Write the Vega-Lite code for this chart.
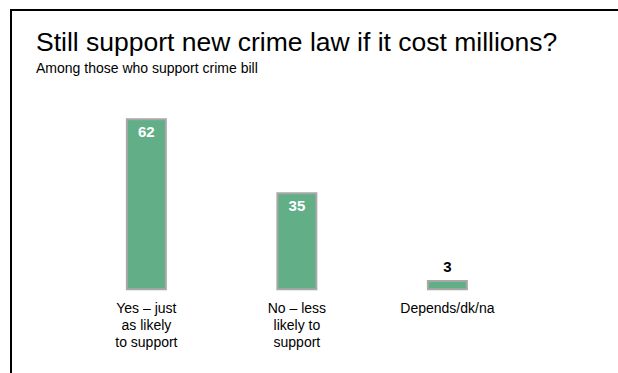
{
  "$schema": "https://vega.github.io/schema/vega-lite/v6.json",
  "autosize": {"type": "none"},
  "padding": {"left": 11, "top": 10, "right": 0, "bottom": 0},
  "width": 607,
  "height": 363,
  "background": "white",
  "config": {
    "font": "Liberation Sans",
    "view": {"stroke": "black", "strokeWidth": 2, "strokeDash": [607, 970]}
  },
  "title": {
    "text": "Still support new crime law if it cost millions?",
    "subtitle": "Among those who support crime bill",
    "anchor": "start",
    "frame": "group",
    "orient": "top",
    "offset": -66,
    "dx": 25,
    "font": "Liberation Sans",
    "fontSize": 26.5,
    "fontWeight": "normal",
    "color": "black",
    "subtitleFont": "Liberation Sans",
    "subtitleFontSize": 14,
    "subtitleColor": "black",
    "subtitlePadding": 6
  },
  "data": {
    "values": [
      {"answer": "Yes – just|as likely|to support", "pct": 62},
      {"answer": "No – less|likely to|support", "pct": 35},
      {"answer": "Depends/dk/na", "pct": 3}
    ]
  },
  "encoding": {
    "x": {
      "field": "answer",
      "type": "nominal",
      "sort": null,
      "scale": {"paddingInner": 0.741, "paddingOuter": 0.887, "align": 0.434},
      "axis": {
        "title": null,
        "domain": false,
        "ticks": false,
        "labelAngle": 0,
        "labelExpr": "split(datum.label, '|')",
        "labelFont": "Liberation Sans",
        "labelFontSize": 14,
        "labelColor": "black",
        "labelLineHeight": 17,
        "labelPadding": 0,
        "labelLimit": 0,
        "labelOverlap": false,
        "labelBaseline": "top",
        "offset": -72
      }
    },
    "y": {
      "field": "pct",
      "type": "quantitative",
      "scale": {"domain": [-30.53, 101.86], "nice": false, "zero": false},
      "axis": null
    }
  },
  "layer": [
    {
      "mark": {"type": "bar", "fill": "#62AE87", "stroke": "#A8A8A8", "strokeWidth": 2},
      "encoding": {"y2": {"datum": 0}}
    },
    {
      "transform": [{"filter": "datum.pct >= 10"}],
      "mark": {"type": "text", "baseline": "top", "dy": 6, "font": "Liberation Sans", "fontSize": 15, "fontWeight": "bold", "color": "white"},
      "encoding": {"text": {"field": "pct", "type": "quantitative"}}
    },
    {
      "transform": [{"filter": "datum.pct < 10"}],
      "mark": {"type": "text", "baseline": "bottom", "dy": -6, "font": "Liberation Sans", "fontSize": 15, "fontWeight": "bold", "color": "black"},
      "encoding": {"text": {"field": "pct", "type": "quantitative"}}
    }
  ]
}
